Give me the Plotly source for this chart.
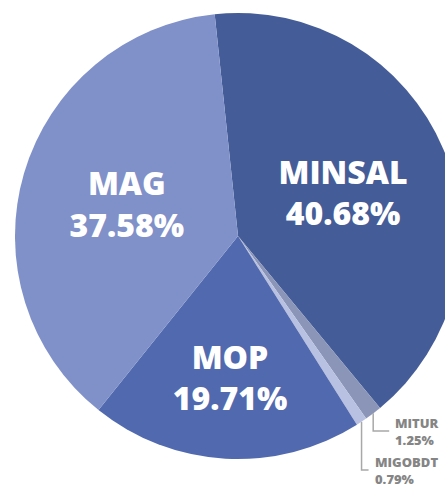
import math
import plotly.graph_objects as go

# Data
labels = ["MINSAL", "MITUR", "MIGOBDT", "MOP", "MAG"]
values = [40.68, 1.25, 0.79, 19.71, 37.58]
colors = ["#445C97", "#8A95B8", "#B9C1E2", "#5169AE", "#8090C8"]
inside = [True, False, False, True, True]

# Layout geometry (pixels)
W, H = 476, 490
cx, cy, R = W / 2, 236, 223
rotation = -6
dom_y = [1 - (cy + R) / H, 1 - (cy - R) / H]

fig = go.Figure(go.Pie(
    labels=labels, values=values, sort=False, direction="clockwise",
    rotation=rotation,
    marker=dict(colors=colors, line=dict(width=0)),
    texttemplate=["%{label}<br>%{percent:.2%}" if b else "" for b in inside],
    textposition=["inside" if b else "none" for b in inside],
    insidetextorientation="horizontal",
    insidetextfont=dict(family="Open Sans", size=32, color="white", weight=800),
    domain=dict(x=[0, 1], y=dom_y),
    showlegend=False, hoverinfo="skip",
))

# Leader lines and outside labels for the small slices
total = sum(values)
cum = 0.0
label_cfg = {"MITUR": (431, 16), "MIGOBDT": (470, 7)}
shapes, annotations = [], []
for lab, v in zip(labels, values):
    mid = rotation + 360 * (cum + v / 2) / total
    cum += v
    if lab not in label_cfg:
        continue
    ey, hl = label_cfg[lab]
    a = math.radians(mid)
    px = cx + R * math.sin(a)
    py = cy - R * math.cos(a)
    x0, y0 = px / W, 1 - py / H
    y1 = 1 - ey / H
    x2 = (px + hl) / W
    shapes.append(dict(type="path", xref="paper", yref="paper",
                       path=f"M {x0},{y0} L {x0},{y1} L {x2},{y1}",
                       line=dict(color="#A8A8A8", width=1.5)))
    annotations.append(dict(xref="paper", yref="paper", x=(px + hl + 4) / W, y=y1,
                            xanchor="left", yanchor="middle", align="left", showarrow=False,
                            text=f"{lab}<br>{v:.2f}%",
                            font=dict(family="Open Sans", size=13, color="#858585", weight=800)))

fig.update_layout(
    width=W, height=H, margin=dict(l=0, r=0, t=0, b=0),
    paper_bgcolor="white", plot_bgcolor="white",
    shapes=shapes, annotations=annotations,
)
fig.write_html(
    "out.html",
    config={"displayModeBar": False},
    post_script="document.body.style.margin='0';"
                "document.body.style.overflow='hidden';"
                "document.documentElement.style.overflow='hidden';",
)
